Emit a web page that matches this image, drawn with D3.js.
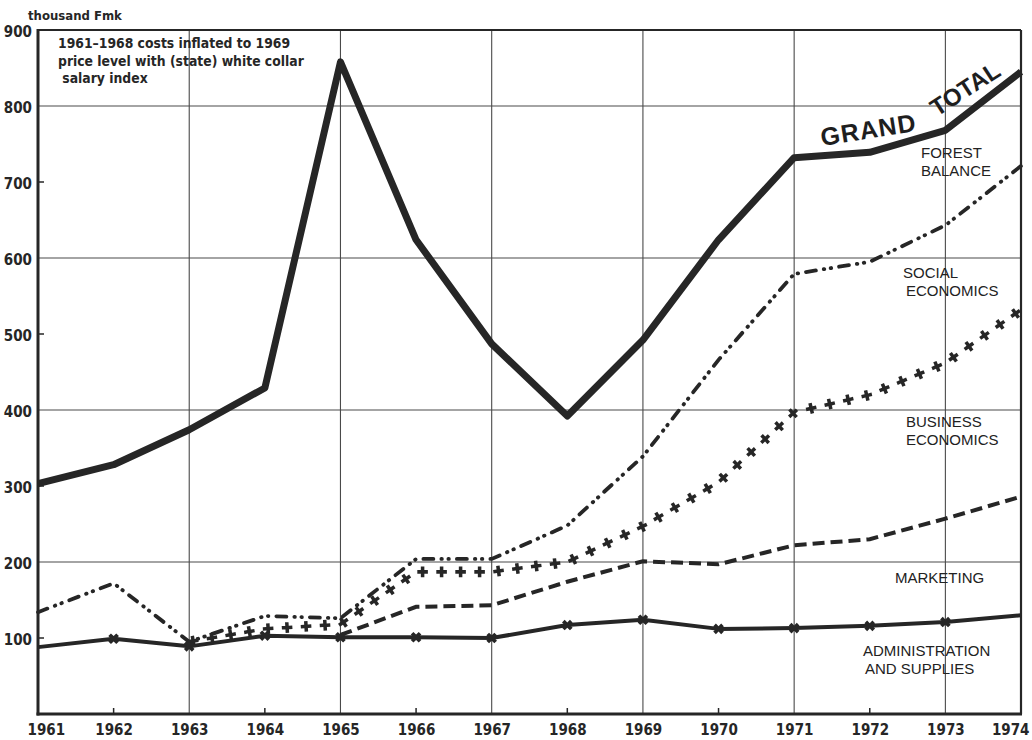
<!DOCTYPE html>
<html>
<head>
<meta charset="utf-8">
<script src="https://cdn.jsdelivr.net/npm/d3@7"></script>
<style>
  html, body { margin: 0; padding: 0; background: #ffffff; }
  svg { display: block; }
  .narrow { font-family: "Liberation Sans Narrow", "DejaVu Sans Condensed", "Liberation Sans", sans-serif; font-weight: bold; }
  .lbl { font-family: "Liberation Sans", "DejaVu Sans", sans-serif; font-size: 15px; fill: #222; }
</style>
</head>
<body>
<svg id="chart" width="1032" height="740"></svg>
<script>
// ---------------- data ----------------
const years = [1961,1962,1963,1964,1965,1966,1967,1968,1969,1970,1971,1972,1973,1974];
const grandTotal        = [303,328,374,429,858,624,487,392,492,624,732,739,768,845];
const forestBalance     = [134,172,95,129,126,204,204,248,339,466,579,595,643,721];
const businessEconomics = [null,null,95,112,118,187,187,200,247,305,397,420,462,532];
const marketing         = [null,null,null,null,104,141,143,174,201,197,222,230,257,286];
const adminSupplies     = [88,99,89,103,101,101,100,117,124,112,113,116,121,130];
const yTickValues = [100,200,300,400,500,600,700,800,900];
const yGridValues = [200,400,600,800];
const xGridYears  = [1963,1965,1967,1969,1971,1973];
const xTickYears  = [1962,1964,1966,1968,1970,1972];
const yMinorTicks = [100,300,500,700];
const unitLabel = "thousand Fmk";
const noteLines = ["1961\u20131968 costs inflated to 1969", "price level with (state) white collar", " salary index"];
const seriesLabels = [
  {lines:["FOREST","BALANCE"], x:921, y:158, dx:0},
  {lines:["SOCIAL","ECONOMICS"], x:903, y:278, dx:3},
  {lines:["BUSINESS","ECONOMICS"], x:906, y:427, dx:0},
  {lines:["MARKETING"], x:895, y:583, dx:0},
  {lines:["ADMINISTRATION","AND SUPPLIES"], x:863, y:656, dx:2}
];
const titleWords = ["GRAND", "TOTAL"];

(function () {
// ---------------- layout ----------------
const svg = d3.select("#chart");
const pLeft = 38, pRight = 1021, pTop = 30, pBottom = 714;
const ink = "#262626";

const x = d3.scaleLinear().domain([1961, 1974]).range([pLeft, pRight]);
const y = d3.scaleLinear().domain([0, 900]).range([pBottom, pTop]);

// grid
const g = svg.append("g");
g.append("g").selectAll("line").data(yGridValues).join("line")
  .attr("x1", pLeft).attr("x2", pRight)
  .attr("y1", d => y(d)).attr("y2", d => y(d))
  .attr("stroke", "#4a4a4a").attr("stroke-width", 1.1);
g.append("g").selectAll("line").data(xGridYears).join("line")
  .attr("x1", d => x(d)).attr("x2", d => x(d))
  .attr("y1", pTop).attr("y2", pBottom)
  .attr("stroke", "#4a4a4a").attr("stroke-width", 1.1);

// minor ticks
g.append("g").selectAll("line").data(yMinorTicks).join("line")
  .attr("x1", pLeft).attr("x2", pLeft + 6)
  .attr("y1", d => y(d)).attr("y2", d => y(d))
  .attr("stroke", ink).attr("stroke-width", 1.5);
g.append("g").selectAll("line").data(xTickYears).join("line")
  .attr("x1", d => x(d)).attr("x2", d => x(d))
  .attr("y1", pBottom).attr("y2", pBottom - 6)
  .attr("stroke", ink).attr("stroke-width", 1.5);

// frame
g.append("line").attr("x1", pLeft).attr("x2", pRight).attr("y1", pTop).attr("y2", pTop)
  .attr("stroke", ink).attr("stroke-width", 1.8);
g.append("line").attr("x1", pRight).attr("x2", pRight).attr("y1", pTop).attr("y2", pBottom)
  .attr("stroke", ink).attr("stroke-width", 2.2);
g.append("line").attr("x1", pLeft).attr("x2", pLeft).attr("y1", pTop - 1).attr("y2", pBottom + 1.5)
  .attr("stroke", ink).attr("stroke-width", 3);
g.append("line").attr("x1", pLeft - 1.5).attr("x2", pRight + 1).attr("y1", pBottom).attr("y2", pBottom)
  .attr("stroke", ink).attr("stroke-width", 3);

// axes (labels)
const yAxis = svg.append("g").attr("transform", `translate(${pLeft},0)`)
  .call(d3.axisLeft(y).tickValues(yTickValues).tickSize(0).tickPadding(6).tickFormat(d3.format("d")));
yAxis.select(".domain").remove();
yAxis.selectAll("text").attr("class", "narrow").attr("font-size", 15).attr("fill", ink).attr("dy", "0.42em");

const xAxis = svg.append("g").attr("transform", `translate(0,${pBottom})`)
  .call(d3.axisBottom(x).tickValues(years).tickSize(0).tickPadding(10).tickFormat(d3.format("d")));
xAxis.select(".domain").remove();
xAxis.selectAll("text").attr("class", "narrow").attr("font-size", 15).attr("fill", ink)
  .attr("text-anchor", (d, i) => i === 0 ? "start" : (i === years.length - 1 ? "end" : "middle"))
  .attr("dx", (d, i) => i === 0 ? -11 : (i === years.length - 1 ? 8 : 0));

// unit label & note
svg.append("text").attr("class", "narrow").attr("x", 28).attr("y", 20)
  .attr("font-size", 13).attr("fill", ink).text(unitLabel);
svg.append("g").selectAll("text").data(noteLines).join("text")
  .attr("class", "narrow").attr("font-size", 13.8).attr("fill", ink)
  .attr("x", 58).attr("y", (d, i) => 48 + i * 17.5)
  .style("white-space", "pre")
  .text(d => d);

// lines
const lineGen = d3.line().defined(d => d.v != null).x(d => x(d.year)).y(d => y(d.v));
const pts = arr => years.map((yr, i) => ({year: yr, v: arr[i]}));

// marketing (dashed)
svg.append("path").attr("d", lineGen(pts(marketing).filter(d => d.v != null)))
  .attr("fill", "none").attr("stroke", ink).attr("stroke-width", 4)
  .attr("stroke-dasharray", "12,6");

// forest balance (dash-dot-dot)
svg.append("path").attr("d", lineGen(pts(forestBalance)))
  .attr("fill", "none").attr("stroke", ink).attr("stroke-width", 3.8)
  .attr("stroke-linecap", "round")
  .attr("stroke-dasharray", "10,8,0.5,6.5,0.5,8");

// business economics (crosses along path)
const beData = pts(businessEconomics).filter(d => d.v != null);
const bePath = svg.append("path").attr("d", lineGen(beData))
  .attr("fill", "none").attr("stroke", "none");
const beNode = bePath.node();
const beLen = beNode.getTotalLength();
const crossPts = [];
const stepLen = 19;
for (let s = 4; s <= beLen; s += stepLen) {
  const p = beNode.getPointAtLength(s);
  const p2 = beNode.getPointAtLength(Math.min(beLen, s + 1));
  const p1 = beNode.getPointAtLength(Math.max(0, s - 1));
  const ang = Math.atan2(p2.y - p1.y, p2.x - p1.x) * 180 / Math.PI;
  crossPts.push({x: p.x, y: p.y, a: ang});
}
svg.append("g").selectAll("path").data(crossPts).join("path")
  .attr("d", d3.symbol().type(d3.symbolCross).size(62))
  .attr("transform", d => `translate(${d.x},${d.y}) rotate(${d.a})`)
  .attr("fill", ink);

// administration and supplies (solid with x marks)
svg.append("path").attr("d", lineGen(pts(adminSupplies)))
  .attr("fill", "none").attr("stroke", ink).attr("stroke-width", 4)
  .attr("stroke-linejoin", "round");
svg.append("g").selectAll("path").data(pts(adminSupplies).slice(1, -1)).join("path")
  .attr("d", d3.symbol().type(d3.symbolCross).size(70))
  .attr("transform", d => `translate(${x(d.year)},${y(d.v)}) rotate(45)`)
  .attr("fill", ink);

// grand total
svg.append("path").attr("d", lineGen(pts(grandTotal)))
  .attr("fill", "none").attr("stroke", ink).attr("stroke-width", 7)
  .attr("stroke-linejoin", "round");

// series labels
const sl = svg.append("g");
seriesLabels.forEach(s => {
  s.lines.forEach((t, i) => {
    sl.append("text").attr("class", "lbl")
      .attr("x", s.x + (i > 0 ? s.dx : 0))
      .attr("y", s.y + i * 18).text(t);
  });
});

// GRAND TOTAL
const titleFont = "'Liberation Sans', 'DejaVu Sans', sans-serif";
svg.append("text")
  .attr("font-family", titleFont).attr("font-weight", "bold").attr("font-size", 25)
  .attr("letter-spacing", 1).attr("fill", "#1e1e1e")
  .attr("transform", "translate(822,146) rotate(-9)")
  .text(titleWords[0]);
svg.append("text")
  .attr("font-family", titleFont).attr("font-weight", "bold").attr("font-size", 24)
  .attr("fill", "#1e1e1e")
  .attr("transform", "translate(937,117) rotate(-33)")
  .text(titleWords[1]);
})();
</script>
</body>
</html>
